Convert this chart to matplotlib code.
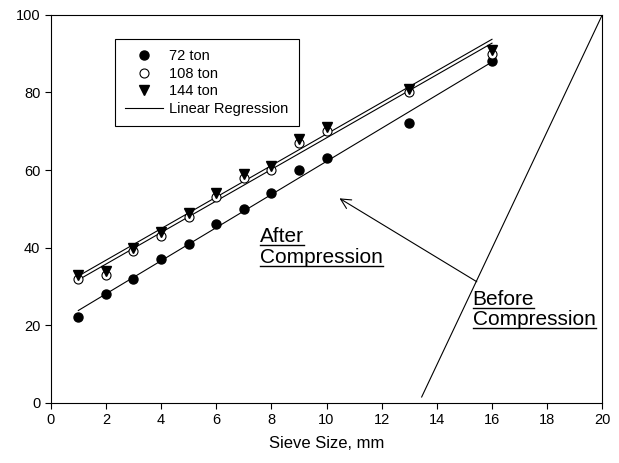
import numpy as np
import matplotlib
matplotlib.use("Agg")
import matplotlib.pyplot as plt
from matplotlib.lines import Line2D

plt.rcParams['font.family'] = ['Liberation Sans', 'DejaVu Sans']

# percent passing vs sieve size
sieve = [1, 2, 3, 4, 5, 6, 7, 8, 9, 10, 13, 16]
p72 = [22, 28, 32, 37, 41, 46, 50, 54, 60, 63, 72, 88]
p108 = [32, 33, 39, 43, 48, 53, 58, 60, 67, 70, 80, 90]
p144 = [33, 34, 40, 44, 49, 54, 59, 61, 68, 71, 81, 91]

# gradation before compression (straight line)
before_x = [13.45, 20]
before_y = [1.5, 100]

# arrow from "Before" curve to "After" curves
arrow_from = (15.45, 31.2)
arrow_to = (10.47, 52.7)

xticks = [0, 2, 4, 6, 8, 10, 12, 14, 16, 18, 20]
yticks = [0, 20, 40, 60, 80, 100]


fig = plt.figure(figsize=(6.19, 4.63), dpi=100)
ax = fig.add_axes([0.082, 0.130, 0.891, 0.838])

ms = 6.5
ax.plot(sieve, p72, 'o', color='k', ms=ms, label='72 ton', zorder=3)
ax.plot(sieve, p108, 'o', mfc='white', mec='k', mew=0.8, ms=ms, label='108 ton', zorder=3)
ax.plot(sieve, p144, 'v', color='k', ms=ms, label='144 ton', zorder=4)

xs = np.array([sieve[0], sieve[-1]])
first = True
for ys in (p72, p108, p144):
    k, b = np.polyfit(sieve, ys, 1)
    ax.plot(xs, k * xs + b, '-', color='k', lw=0.8, zorder=2,
            label='Linear Regression' if first else None)
    first = False

ax.plot(before_x, before_y, '-', color='k', lw=0.8)
ax.annotate('', xy=arrow_to, xytext=arrow_from,
            arrowprops=dict(arrowstyle='->', color='k', lw=0.8,
                            mutation_scale=18, shrinkA=0, shrinkB=0))

texts = [
    ax.text(7.6, 41.5, 'After', fontsize=15, va='baseline'),
    ax.text(7.6, 36.0, 'Compression', fontsize=15, va='baseline'),
    ax.text(15.3, 25.2, 'Before', fontsize=15, va='baseline'),
    ax.text(15.3, 20.0, 'Compression', fontsize=15, va='baseline'),
]

ax.set_xlim(0, 20)
ax.set_ylim(0, 100)
ax.set_xticks(xticks)
ax.set_yticks(yticks)
ax.tick_params(direction='out', length=4, width=0.8, labelsize=10.5, colors='k')
ax.set_xlabel('Sieve Size, mm', fontsize=12, labelpad=6)
for sp in ax.spines.values():
    sp.set_linewidth(0.8)

leg = ax.legend(loc='upper left', bbox_to_anchor=(0.117, 0.938), fontsize=10.5,
                frameon=True, fancybox=False, edgecolor='k', framealpha=1,
                handlelength=2.6, handletextpad=0.4, labelspacing=0.25,
                borderpad=0.7, borderaxespad=0)
leg.get_frame().set_linewidth(0.8)

# underline the annotation texts, just below the baseline
fig.canvas.draw()
r = fig.canvas.get_renderer()
inv = fig.transFigure.inverted()
for t in texts:
    bb = t.get_window_extent(r)
    base = ax.transData.transform(t.get_position())[1] - 3
    (x0, y0), (x1, _) = inv.transform([(bb.x0, base), (bb.x1, base)])
    fig.add_artist(Line2D([x0, x1], [y0, y0], color='k', lw=1.0))

fig.savefig('out.png', dpi=100)
